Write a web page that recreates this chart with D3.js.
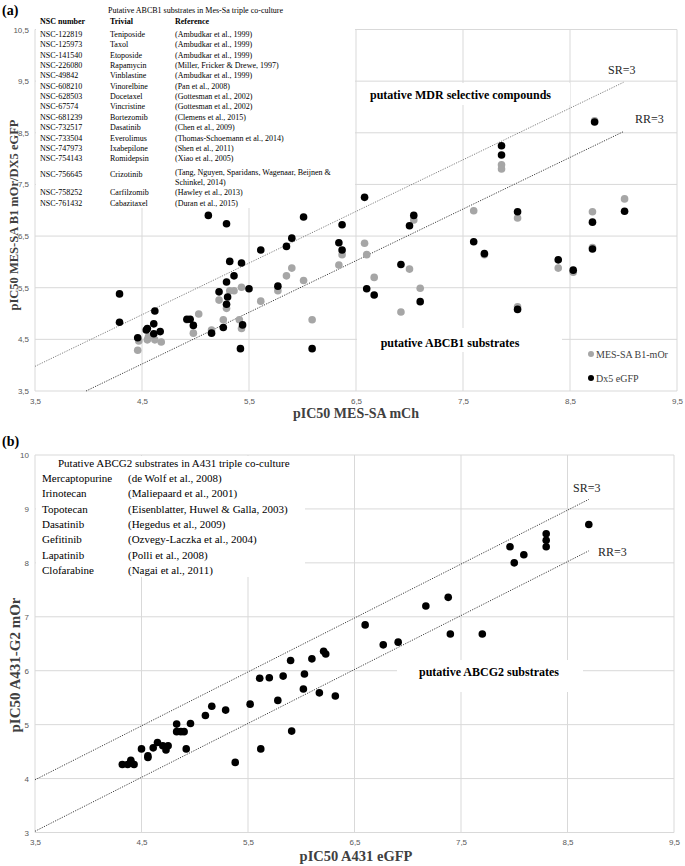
<!DOCTYPE html>
<html><head><meta charset="utf-8">
<script src="https://cdn.jsdelivr.net/npm/d3@7"></script>
<style>body{margin:0;background:#fff}svg{display:block}</style>
</head><body>
<script>
// ---------- DATA ----------
const xTicksA = [3.5,4.5,5.5,6.5,7.5,8.5,9.5];
const yTicksA = [3.5,4.5,5.5,6.5,7.5,8.5,9.5,10.5];
const xTicksB = [3.5,4.5,5.5,6.5,7.5,8.5,9.5];
const yTicksB = [3,4,5,6,7,8,9,10];
const ratioThreshold = 3;
const lineRangeA = [3.5, 9.0];
const lineRangeB = [3.5, 8.7];

// MES-SA B1-mOr (grey) : [pIC50 MES-SA mCh, pIC50 B1 mOr]
const mesB1 = [[4.46,4.29],[4.47,4.47],[4.55,4.49],[4.56,4.55],[4.62,4.49],[4.68,4.45],
 [4.92,4.88],[4.98,4.62],[5.03,4.99],[5.15,4.68],[5.22,5.26],[5.26,4.88],[5.29,5.10],
 [5.32,5.44],[5.36,5.44],[5.41,4.88],[5.43,5.51],[5.43,4.71],[5.61,5.24],[5.77,5.44],
 [5.85,5.73],[5.90,5.88],[6.01,5.64],[6.09,4.88],[6.34,5.94],[6.37,6.14],[6.58,6.36],
 [6.60,6.14],[6.67,5.70],[6.92,5.03],[7.00,5.86],[7.04,6.81],[7.10,5.49],[7.60,6.99],
 [7.70,6.14],[7.86,7.88],[7.86,7.80],[8.01,6.85],[8.01,5.13],[8.39,5.88],[8.53,5.80],
 [8.71,6.97],[8.71,6.28],[9.01,7.22],[8.73,8.73]];
// Dx5 eGFP (black)
const dx5 = [[5.12,6.90],[5.29,6.74],[6.01,6.87],[6.37,6.72],[5.90,6.46],[5.85,6.30],
 [6.34,6.37],[6.37,6.23],[5.61,6.23],[5.32,6.01],[5.43,5.98],[5.36,5.73],[5.29,5.61],
 [5.22,5.42],[5.30,5.32],[5.29,5.18],[5.50,5.48],[5.77,5.53],[4.29,5.38],[4.29,4.83],
 [4.62,5.05],[4.61,4.80],[4.55,4.71],[4.54,4.68],[4.61,4.61],[4.67,4.65],[4.46,4.53],
 [4.92,4.89],[4.95,4.89],[4.98,4.77],[5.15,4.62],[5.26,4.73],[5.44,4.78],[5.42,4.32],
 [6.09,4.32],[6.58,7.25],[7.04,6.90],[7.00,6.70],[7.86,8.25],[7.86,8.07],[8.73,8.71],
 [8.01,6.97],[9.01,6.98],[8.71,6.77],[8.71,6.25],[7.60,6.39],[7.70,6.16],[8.39,6.04],
 [8.53,5.84],[6.92,5.95],[6.60,5.48],[6.67,5.36],[7.10,5.23],[8.01,5.08]];
// A431 : [pIC50 A431 eGFP, pIC50 A431-G2 mOr]
const a431 = [[8.70,8.71],[8.30,8.54],[8.30,8.42],[8.30,8.30],[7.96,8.30],[8.09,8.15],
 [8.00,8.00],[7.38,7.36],[7.17,7.20],[6.60,6.85],[6.77,6.48],[6.91,6.53],[7.40,6.68],
 [7.70,6.68],[6.32,5.53],[6.21,6.36],[6.23,6.31],[6.10,6.22],[5.90,6.19],[6.03,5.94],
 [5.61,5.86],[5.70,5.87],[5.83,5.90],[6.02,5.66],[6.17,5.59],[5.78,5.45],[5.52,5.38],
 [5.16,5.34],[5.29,5.27],[5.10,5.17],[4.83,5.01],[4.96,5.02],[4.83,4.87],[4.87,4.87],
 [4.90,4.87],[4.65,4.67],[4.61,4.57],[4.75,4.61],[4.70,4.61],[4.73,4.53],[4.92,4.55],
 [4.50,4.55],[4.56,4.42],[4.56,4.39],[4.40,4.34],[4.40,4.30],[4.32,4.26],[4.37,4.26],
 [4.43,4.26],[5.38,4.30],[5.62,4.55],[5.91,4.88]];

const abcb1Title = "Putative ABCB1 substrates in Mes-Sa triple co-culture";
const abcb1Header = ["NSC number","Trivial","Reference"];
const abcb1Nsc = ["NSC-122819","NSC-125973","NSC-141540","NSC-226080","NSC-49842","NSC-608210",
 "NSC-628503","NSC-67574","NSC-681239","NSC-732517","NSC-733504","NSC-747973","NSC-754143",
 "NSC-756645","NSC-758252","NSC-761432"];
const abcb1Trivial = ["Teniposide","Taxol","Etoposide","Rapamycin","Vinblastine","Vinorelbine",
 "Docetaxel","Vincristine","Bortezomib","Dasatinib","Everolimus","Ixabepilone","Romidepsin",
 "Crizotinib","Carfilzomib","Cabazitaxel"];
const abcb1Ref = [["(Ambudkar et al., 1999)"],["(Ambudkar et al., 1999)"],["(Ambudkar et al., 1999)"],
 ["(Miller, Fricker & Drewe, 1997)"],["(Ambudkar et al., 1999)"],["(Pan et al., 2008)"],
 ["(Gottesman et al., 2002)"],["(Gottesman et al., 2002)"],["(Clemens et al., 2015)"],
 ["(Chen et al., 2009)"],["(Thomas-Schoemann et al., 2014)"],["(Shen et al., 2011)"],
 ["(Xiao et al., 2005)"],["(Tang, Nguyen, Sparidans, Wagenaar, Beijnen &","Schinkel, 2014)"],
 ["(Hawley et al., 2013)"],["(Duran et al., 2015)"]];

const abcg2Title = "Putative ABCG2 substrates in A431 triple co-culture";
const abcg2Drug = ["Mercaptopurine","Irinotecan","Topotecan","Dasatinib","Gefitinib","Lapatinib","Clofarabine"];
const abcg2Ref = ["(de Wolf et al., 2008)","(Maliepaard et al., 2001)","(Eisenblatter, Huwel & Galla, 2003)",
 "(Hegedus et al., 2009)","(Ozvegy-Laczka et al., 2004)","(Polli et al., 2008)","(Nagai et al., 2011)"];

// ---------- DRAWING ----------
const W=685,H=866;
const serif="'Liberation Serif','Times New Roman',serif";
const sans="'Liberation Sans',Arial,sans-serif";
const svg=d3.select("body").append("svg").attr("width",W).attr("height",H);
const fmt=d=>String(d).replace(".",",");
const lr=Math.log10(ratioThreshold);

function panel(o){
  const g=svg.append("g");
  const x=o.x,y=o.y;
  const [x0,x1]=x.range(),[y0,y1]=y.range();
  g.selectAll(".hg").data(o.yTicks).join("line")
    .attr("x1",x0).attr("x2",x1).attr("y1",d=>y(d)).attr("y2",d=>y(d))
    .attr("stroke","#d9d9d9").attr("stroke-width",1);
  g.selectAll(".vg").data(o.xTicks).join("line")
    .attr("x1",d=>x(d)).attr("x2",d=>x(d)).attr("y1",y0).attr("y2",y1)
    .attr("stroke","#d9d9d9").attr("stroke-width",1);
  const ax=g.append("g").attr("transform",`translate(0,${y0})`)
    .call(d3.axisBottom(x).tickValues(o.xTicks).tickFormat(fmt).tickSize(0).tickPadding(o.xPad));
  const ay=g.append("g").attr("transform",`translate(${x0},0)`)
    .call(d3.axisLeft(y).tickValues(o.yTicks).tickFormat(fmt).tickSize(0).tickPadding(o.yPad));
  [ax,ay].forEach(a=>{a.select(".domain").remove();
    a.selectAll("text").attr("font-family",sans).attr("font-size",8).attr("fill","#595959");});
  o.boxes.forEach(b=>g.append("rect").attr("x",b[0]).attr("y",b[1]).attr("width",b[2]).attr("height",b[3]).attr("fill","#fff"));
  const lg=d3.line().x(d=>x(d[0])).y(d=>y(d[1]));
  o.lines.forEach(l=>g.append("path").attr("d",lg(l.pts)).attr("fill","none")
    .attr("stroke",l.c).attr("stroke-width",1).attr("stroke-dasharray","1.2,1.3"));
  o.series.forEach(s=>g.append("g").selectAll("circle").data(s.data).join("circle")
    .attr("cx",d=>x(d[0])).attr("cy",d=>y(d[1])).attr("r",s.r).attr("fill",s.c));
  return g;
}

// Panel A
const xA=d3.scaleLinear([3.5,9.5],[35,677]);
const yA=d3.scaleLinear([3.5,10.5],[391,29.5]);
const srA=[[lineRangeA[0],lineRangeA[0]+lr],[lineRangeA[1],lineRangeA[1]+lr]];
const rrA=[[3.5+lr,3.5],[lineRangeA[1],lineRangeA[1]-lr]];
panel({x:xA,y:yA,xTicks:xTicksA,yTicks:yTicksA,xPad:7,yPad:6,
  boxes:[[36,0,319,208],[357,83,213,22],[357,328,205,24]],
  lines:[{pts:srA,c:"#7f7f7f"},{pts:rrA,c:"#404040"}],
  series:[{data:mesB1,c:"#a6a6a6",r:3.8},{data:dx5,c:"#000",r:3.8}]});

// Panel B
const xB=d3.scaleLinear([3.5,9.5],[35,674]);
const yB=d3.scaleLinear([3,10],[832.5,455]);
const srB=lineRangeB.map(v=>[v,v+lr]);
const rrB=lineRangeB.map(v=>[v,v-lr]);
panel({x:xB,y:yB,xTicks:xTicksB,yTicks:yTicksB,xPad:7,yPad:6,
  boxes:[[36,456,269,121],[397,660,186,32]],
  lines:[{pts:srB,c:"#404040"},{pts:rrB,c:"#404040"}],
  series:[{data:a431,c:"#000",r:3.8}]});

// ---------- TEXT ----------
function txt(x,y,s,o={}){
  return svg.append("text").attr("x",x).attr("y",y).text(s)
   .attr("font-family",o.ff||serif).attr("font-size",o.fs||10)
   .attr("font-weight",o.fw||"normal").attr("fill",o.c||"#000")
   .attr("text-anchor",o.a||"start");
}
txt(2,15,"(a)",{fs:14,fw:"bold"});
txt(2,446,"(b)",{fs:14,fw:"bold"});

// Table A
txt(108,13,abcb1Title,{fs:8});
[40,110,175].forEach((cx,i)=>txt(cx,23.5,abcb1Header[i],{fs:8,fw:"bold"}));
abcb1Nsc.forEach((n,i)=>{
  const cy=34+i*10.35+(i>=13?5.5:0)+(i>=14?8:0);
  txt(40,cy+3,n,{fs:8});
  txt(110,cy+3,abcb1Trivial[i],{fs:8});
  const r=abcb1Ref[i];
  if(r.length===1) txt(175,cy+3,r[0],{fs:8});
  else r.forEach((l,k)=>txt(175,cy+1+k*10,l,{fs:8}));
});

// Table B
txt(58,467,abcg2Title,{fs:11});
abcg2Drug.forEach((d,i)=>{
  const cy=478+i*15.3;
  txt(42,cy+4,d,{fs:11});
  txt(128,cy+4,abcg2Ref[i],{fs:11});
});

// annotations A
txt(370,99,"putative MDR selective compounds",{fs:12,fw:"bold"});
txt(450,347,"putative ABCB1 substrates",{fs:12,fw:"bold",a:"middle"});
txt(608,74,"SR=3",{fs:12,c:"#262626"});
txt(635,123,"RR=3",{fs:12,c:"#262626"});
// legend
svg.append("circle").attr("cx",591).attr("cy",354).attr("r",3).attr("fill","#a6a6a6");
txt(596,357.5,"MES-SA B1-mOr",{fs:10,c:"#404040"});
svg.append("circle").attr("cx",591).attr("cy",378).attr("r",3).attr("fill","#000");
txt(596,381.5,"Dx5 eGFP",{fs:10,c:"#404040"});
// axis titles A
txt(356,418,"pIC50 MES-SA mCh",{fs:14,fw:"bold",a:"middle",c:"#404040"});
txt(0,0,"pIC50 MES-SA B1 mOr/DX5 eGFP",{fs:12.5,fw:"bold",a:"middle",c:"#404040"})
  .attr("transform","translate(18,215) rotate(-90)");

// annotations B
txt(489,676,"putative ABCG2 substrates",{fs:12,fw:"bold",a:"middle"});
txt(573,492,"SR=3",{fs:12,c:"#262626"});
txt(598,556,"RR=3",{fs:12,c:"#262626"});
txt(356,861,"pIC50 A431 eGFP",{fs:14.5,fw:"bold",a:"middle",c:"#404040"});
txt(0,0,"pIC50 A431-G2 mOr",{fs:15,fw:"bold",a:"middle",c:"#404040"})
  .attr("transform","translate(20,665) rotate(-90)");
</script>
</body></html>
